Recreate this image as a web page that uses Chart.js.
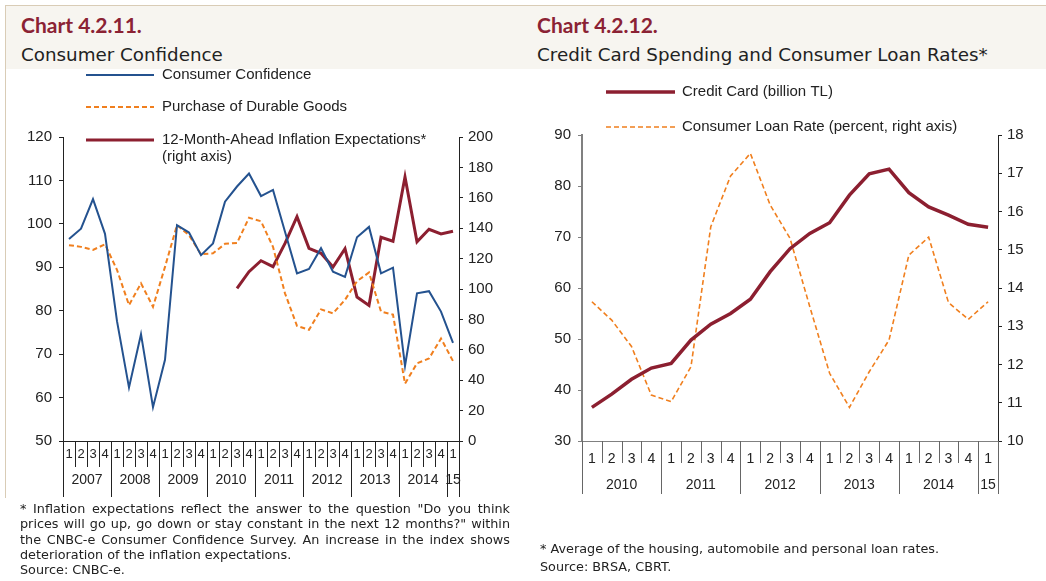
<!DOCTYPE html>
<html>
<head>
<meta charset="utf-8">
<script src="https://cdn.jsdelivr.net/npm/chart.js@4.4.1/dist/chart.umd.min.js"></script>
<style>
  html, body { margin: 0; padding: 0; background: #fff; }
  body { width: 1046px; height: 581px; position: relative; overflow: hidden; font-family: "DejaVu Sans", sans-serif; }
  .band { position: absolute; left: 5px; top: 5px; width: 1041px; height: 63px; background: #f7f5f0; border-top: 1px solid #d9ccb6; }
  .vline { position: absolute; left: 5px; top: 5px; width: 1px; height: 493px; background: #d9ccb6; }
  .title { position: absolute; font-family: Lato, sans-serif; font-weight: bold; color: #8b2234; font-size: 21px; }
  .sub { position: absolute; color: #222; font-size: 18.3px; }
  canvas { position: absolute; top: 0; }
  .note { position: absolute; color: #222; font-size: 12.8px; line-height: 15.3px; }
  .note .j { text-align: justify; text-align-last: justify; }
</style>
</head>
<body>
<div class="band"></div>
<div class="vline"></div>
<div class="title" style="left:21px; top:12px;">Chart 4.2.11.</div>
<div class="sub" style="left:21px; top:44px;">Consumer Confidence</div>
<div class="title" style="left:537px; top:12px;">Chart 4.2.12.</div>
<div class="sub" style="left:537px; top:44px;">Credit Card Spending and Consumer Loan Rates*</div>

<canvas id="left" width="520" height="581" style="left:0"></canvas>
<canvas id="right" width="526" height="581" style="left:520px"></canvas>

<div class="note" style="left:20px; top:501px; width:490px;">
  <div class="j">* Inflation expectations reflect the answer to the question "Do you think</div>
  <div class="j">prices will go up, go down or stay constant in the next 12 months?" within</div>
  <div class="j">the CNBC-e Consumer Confidence Survey. An increase in the index shows</div>
  <div>deterioration of the inflation expectations.</div>
  <div>Source: CNBC-e.</div>
</div>
<div class="note" style="left:540px; top:540px; line-height:18px;">
  <div>* Average of the housing, automobile and personal loan rates.</div>
  <div>Source: BRSA, CBRT.</div>
</div>

<script>
// quarters as "year-quarter"
const quartersLeft = [
  '2007-1','2007-2','2007-3','2007-4','2008-1','2008-2','2008-3','2008-4',
  '2009-1','2009-2','2009-3','2009-4','2010-1','2010-2','2010-3','2010-4',
  '2011-1','2011-2','2011-3','2011-4','2012-1','2012-2','2012-3','2012-4',
  '2013-1','2013-2','2013-3','2013-4','2014-1','2014-2','2014-3','2014-4',
  '2015-1'
];
const consumerConfidence = [96.5, 98.9, 105.7, 97.7, 77.6, 62.3, 74.6, 57.8, 68.7, 99.7, 98.0, 92.8, 95.5, 105.1, 108.6, 111.6,
  106.4, 107.8, 98.2, 88.6, 89.6, 94.4, 89.0, 87.8, 96.9, 99.3, 88.6, 89.9, 67.3, 84.0, 84.5, 79.8, 72.6];
const durableGoods = [95.1, 94.7, 94.0, 95.3, 89.4, 81.3, 86.3, 80.9, 90.1, 99.7, 97.4, 93.0, 93.2, 95.4, 95.6, 101.4,
  100.6, 94.7, 84.0, 76.5, 75.6, 80.3, 79.4, 82.5, 86.8, 88.8, 79.8, 79.1, 63.2, 67.9, 69.0, 73.6, 68.4];
const inflationExp = [null, null, null, null, null, null, null, null, null, null, null, null, null, null, 100.4, 111.4,
  118.6, 114.7, 130.0, 147.6, 126.8, 123.5, 114.5, 126.5, 94.7, 89.2, 134.0, 131.4, 173.7, 131.0, 139.3, 136.2, 138.0];

const quartersRight = [
  '2010-1','2010-2','2010-3','2010-4','2011-1','2011-2','2011-3','2011-4',
  '2012-1','2012-2','2012-3','2012-4','2013-1','2013-2','2013-3','2013-4',
  '2014-1','2014-2','2014-3','2014-4','2015-1'
];
const creditCard = [36.6, 39.2, 42.1, 44.3, 45.2, 49.8, 52.9, 55.0, 57.8, 63.2, 67.7, 70.7, 72.8, 78.2, 82.4, 83.3,
  78.7, 75.9, 74.3, 72.5, 71.9];
const loanRate = [13.64, 13.16, 12.47, 11.20, 11.03, 11.94, 15.60, 16.93, 17.52, 16.17, 15.30, 13.51, 11.77, 10.88, 11.81, 12.64,
  14.86, 15.33, 13.62, 13.18, 13.64];

const BLUE = '#24528f', ORANGE = '#f07f1e', RED = '#8c1f30';
const AXIS_FONT = { family: 'Liberation Sans, Arial, sans-serif', size: 15 };

// quarter numbers + year row under the x axis
const twoTierAxis = {
  id: 'twoTierAxis',
  afterDraw(chart, args, o) {
    const { ctx, chartArea } = chart;
    const x = chart.scales.x;
    const labels = chart.data.labels;
    const step = x.getPixelForValue(1) - x.getPixelForValue(0);
    const y0 = chartArea.bottom;
    ctx.save();
    ctx.strokeStyle = o.color;
    ctx.lineWidth = 1;
    ctx.fillStyle = '#222';
    ctx.textAlign = 'center';
    ctx.textBaseline = 'middle';
    const groups = [];
    labels.forEach((lab, i) => {
      const [yr, q] = lab.split('-');
      const cx = x.getPixelForValue(i);
      const left = Math.round(cx - step / 2) + 0.5;
      const newYear = i === 0 || labels[i - 1].split('-')[0] !== yr;
      ctx.beginPath();
      ctx.moveTo(left, y0);
      ctx.lineTo(left, y0 + (newYear ? o.yearLen : o.quarterLen));
      ctx.stroke();
      ctx.font = o.quarterFont;
      ctx.fillText(q, cx, o.quarterY);
      if (newYear) groups.push({ yr, xs: [] });
      groups[groups.length - 1].xs.push(cx);
    });
    const last = Math.round(x.getPixelForValue(labels.length - 1) + step / 2) + 0.5;
    ctx.beginPath();
    ctx.moveTo(last, y0);
    ctx.lineTo(last, y0 + o.yearLen);
    ctx.stroke();
    ctx.font = o.yearFont;
    groups.forEach(g => {
      const mid = (g.xs[0] + g.xs[g.xs.length - 1]) / 2;
      ctx.fillText(g.xs.length === 1 ? g.yr.slice(2) : g.yr, mid, o.yearY);
    });
    ctx.restore();
  }
};

// vertical legend with long line samples
const lineLegend = {
  id: 'lineLegend',
  afterDraw(chart, args, o) {
    const { ctx } = chart;
    ctx.save();
    ctx.font = o.font;
    ctx.fillStyle = '#222';
    ctx.textBaseline = 'middle';
    chart.data.datasets.forEach((ds, i) => {
      const y = o.rows[i];
      ctx.strokeStyle = ds.borderColor;
      ctx.lineWidth = ds.borderWidth;
      ctx.setLineDash(ds.borderDash || []);
      ctx.beginPath();
      ctx.moveTo(o.x0, y);
      ctx.lineTo(o.x1, y);
      ctx.stroke();
      ds.label.split('\n').forEach((t, k) => ctx.fillText(t, o.textX, y + k * 17));
    });
    ctx.restore();
  }
};

function yAxis(pos, min, max, step, width, color, borderWidth) {
  return {
    type: 'linear', position: pos, min, max,
    afterFit: s => { s.width = width; },
    ticks: { stepSize: step, font: AXIS_FONT, color: '#222', padding: pos === 'left' ? 7 : 5 },
    grid: { drawOnChartArea: false, drawTicks: true, tickLength: 4, color: color },
    border: { display: true, color: color, width: borderWidth }
  };
}

function xAxis(color) {
  return {
    type: 'category', offset: true,
    afterFit: s => { s.height = 140; },
    ticks: { display: false },
    grid: { display: false },
    border: { display: true, color: color, width: 1 }
  };
}

Chart.defaults.animation = false;

new Chart(document.getElementById('left'), {
  type: 'line',
  data: {
    labels: quartersLeft,
    datasets: [
      { label: 'Consumer Confidence', data: consumerConfidence, borderColor: BLUE, borderWidth: 2, yAxisID: 'y' },
      { label: 'Purchase of Durable Goods', data: durableGoods, borderColor: ORANGE, borderWidth: 2, borderDash: [5, 3], yAxisID: 'y' },
      { label: '12-Month-Ahead Inflation Expectations*\n(right axis)', data: inflationExp, borderColor: RED, borderWidth: 3, yAxisID: 'y1' }
    ]
  },
  options: {
    responsive: false,
    devicePixelRatio: 1,
    layout: { padding: { top: 137, left: 0, right: 0, bottom: 0 } },
    elements: { point: { radius: 0 }, line: { tension: 0 } },
    scales: {
      x: xAxis('#222'),
      y: yAxis('left', 50, 120, 10, 63, '#222', 1),
      y1: yAxis('right', 0, 200, 20, 61, '#222', 1)
    },
    plugins: {
      legend: { display: false },
      tooltip: { enabled: false },
      lineLegend: { x0: 86, x1: 154, textX: 162, rows: [75, 107, 140], font: '15px "Liberation Sans", Arial, sans-serif' },
      twoTierAxis: { color: '#222', quarterLen: 26, yearLen: 56, quarterY: 454, yearY: 480,
        quarterFont: '13px "Liberation Sans", Arial, sans-serif', yearFont: '14px "Liberation Sans", Arial, sans-serif' }
    }
  },
  plugins: [lineLegend, twoTierAxis]
});

new Chart(document.getElementById('right'), {
  type: 'line',
  data: {
    labels: quartersRight,
    datasets: [
      { label: 'Credit Card (billion TL)', data: creditCard, borderColor: RED, borderWidth: 3.5, yAxisID: 'y' },
      { label: 'Consumer Loan Rate (percent, right axis)', data: loanRate, borderColor: ORANGE, borderWidth: 1.6, borderDash: [5, 3], yAxisID: 'y1' }
    ]
  },
  options: {
    responsive: false,
    devicePixelRatio: 1,
    layout: { padding: { top: 135, left: 0, right: 0, bottom: 0 } },
    elements: { point: { radius: 0 }, line: { tension: 0 } },
    scales: {
      x: xAxis('#808080'),
      y: yAxis('left', 30, 90, 10, 62, '#808080', 2),
      y1: yAxis('right', 10, 18, 1, 48, '#222', 1)
    },
    plugins: {
      legend: { display: false },
      tooltip: { enabled: false },
      lineLegend: { x0: 86, x1: 155, textX: 162, rows: [92, 127], font: '15px "Liberation Sans", Arial, sans-serif' },
      twoTierAxis: { color: '#666', quarterLen: 22, yearLen: 53, quarterY: 459, yearY: 485,
        quarterFont: '14px "Liberation Sans", Arial, sans-serif', yearFont: '14px "Liberation Sans", Arial, sans-serif' }
    }
  },
  plugins: [lineLegend, twoTierAxis]
});
</script>
</body>
</html>
